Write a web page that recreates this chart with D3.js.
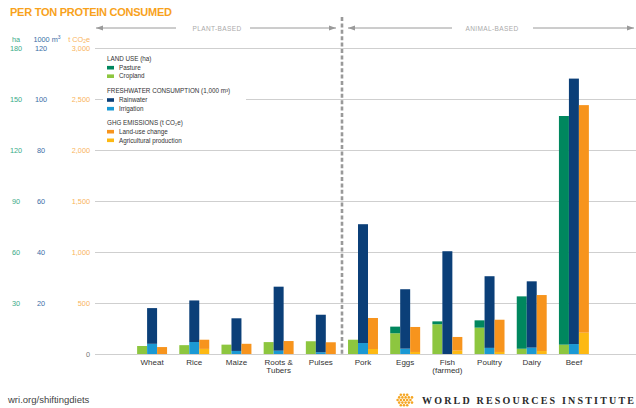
<!DOCTYPE html>
<html>
<head>
<meta charset="utf-8">
<script src="https://cdn.jsdelivr.net/npm/d3@7"></script>
<style>
  body { margin: 0; background: #fff; }
  svg { display: block; font-family: "Liberation Sans", Arial, sans-serif; }
</style>
</head>
<body>
<div id="chart"></div>
<script>
// values per ton of protein consumed
var categories = ["Wheat", "Rice", "Maize", "Roots & Tubers", "Pulses", "Pork", "Eggs", "Fish (farmed)", "Poultry", "Dairy", "Beef"]
var tickLines = [["Wheat"], ["Rice"], ["Maize"], ["Roots &", "Tubers"], ["Pulses"], ["Pork"], ["Eggs"], ["Fish", "(farmed)"], ["Poultry"], ["Dairy"], ["Beef"]]

// land use (ha)
var cropland = [4.7, 5.2, 5.5, 7, 7.5, 8.4, 12.2, 17.5, 15.5, 3.1, 5.5]
var pasture = [0, 0, 0, 0, 0, 0, 3.9, 1.7, 4.3, 30.8, 134.5]
// freshwater (1,000 m3)
var irrigation = [4, 4.7, 1.2, 1.3, 0.7, 4.3, 2.1, 0, 2.4, 2.5, 3.9]
var rainwater = [14, 16.3, 12.8, 25.1, 14.7, 46.6, 23.3, 40.3, 28.1, 26, 104.1]
// ghg (t CO2e)
var agProduction = [0, 50, 0, 0, 0, 49, 20, 33, 20, 29, 209]
var landUseChange = [68, 90, 100, 127, 115, 304, 245, 134, 316, 549, 2231]

var haTicks = [30, 60, 90, 120, 150, 180]
var waterTicks = [20, 40, 60, 80, 100, 120]
var ghgTicks = [0, 500, 1000, 1500, 2000, 2500, 3000]

var colors = {
    pasture: "#00875e", cropland: "#8dc63f",
    rainwater: "#0b3f78", irrigation: "#1b99d4",
    landUse: "#f7941d", agProd: "#fdb913"
}

var W = 636, H = 408
var svg = d3.select("#chart").append("svg").attr("width", W).attr("height", H)

var yGhg = d3.scaleLinear().domain([0, 3000]).range([354, 48])
var yHa = d3.scaleLinear().domain([0, 180]).range([354, 48])
var yWater = d3.scaleLinear().domain([0, 120]).range([354, 48])

var x = d3.scaleBand().domain(categories).range([131, 595]).paddingInner(0.29).paddingOuter(0.145)
var xSub = d3.scaleBand().domain(["land", "water", "ghg"]).range([0, x.bandwidth()])

// title
svg.append("text").attr("x", 10).attr("y", 16)
    .text("PER TON PROTEIN CONSUMED")
    .style("font-size", "11px").style("font-weight", "bold").style("fill", "#f8a21c")
    .attr("textLength", 162).attr("lengthAdjust", "spacing")

// gridlines + ghg axis
var gAxis = svg.append("g").attr("transform", "translate(95,0)")
    .call(d3.axisLeft(yGhg).tickValues(ghgTicks).tickSize(-(W - 95)).tickPadding(5)
        .tickFormat(d3.format(",")))
gAxis.select(".domain").remove()
gAxis.selectAll("line").style("stroke", "#cfcfcf")
gAxis.selectAll("text").style("fill", function (d) { return d === 0 ? "#777" : "#f9b45c" })
    .style("font-size", "7.3px").style("font-family", "Liberation Sans, Arial, sans-serif")

var haAxis = svg.append("g").attr("transform", "translate(16,0)")
    .call(d3.axisLeft(yHa).tickValues(haTicks).tickSize(0).tickPadding(0))
haAxis.select(".domain").remove()
haAxis.selectAll("text").attr("text-anchor", "middle").style("fill", "#3aab88")
    .style("font-size", "7.3px").style("font-family", "Liberation Sans, Arial, sans-serif")

var waterAxis = svg.append("g").attr("transform", "translate(41,0)")
    .call(d3.axisLeft(yWater).tickValues(waterTicks).tickSize(0).tickPadding(0))
waterAxis.select(".domain").remove()
waterAxis.selectAll("text").attr("text-anchor", "middle").style("fill", "#3b6ea6")
    .style("font-size", "7.3px").style("font-family", "Liberation Sans, Arial, sans-serif")

// unit headers
var head = svg.append("g").style("font-size", "7.3px")
head.append("text").attr("x", 16).attr("y", 41.5).attr("text-anchor", "middle").style("fill", "#3aab88").text("ha")
var wh = head.append("text").attr("x", 47).attr("y", 41.5).attr("text-anchor", "middle").style("fill", "#3b6ea6")
wh.append("tspan").text("1000 m")
wh.append("tspan").attr("dy", -2.5).style("font-size", "5px").text("3")
var gh = head.append("text").attr("x", 90).attr("y", 41.5).attr("text-anchor", "end").style("fill", "#f9b45c")
gh.append("tspan").text("t CO")
gh.append("tspan").attr("dy", 1.5).style("font-size", "5px").text("2")
gh.append("tspan").attr("dy", -1.5).text("e")

// bars
var rows = categories.map(function (c, i) {
    return {
        cat: c, cropland: cropland[i], pasture: pasture[i],
        irrigation: irrigation[i], rainwater: rainwater[i],
        agProd: agProduction[i], landUse: landUseChange[i]
    }
})

var groups = [
    { key: "land", y: yHa, keys: ["cropland", "pasture"] },
    { key: "water", y: yWater, keys: ["irrigation", "rainwater"] },
    { key: "ghg", y: yGhg, keys: ["agProd", "landUse"] }
]

var barsG = svg.append("g").attr("class", "bars")
groups.forEach(function (grp) {
    var series = d3.stack().keys(grp.keys)(rows)
    barsG.append("g").selectAll("g")
        .data(series)
        .enter()
        .append("g")
        .style("fill", function (d) { return colors[d.key] })
        .selectAll("rect")
        .data(function (d) { return d })
        .enter()
        .append("rect")
        .attr("x", function (d) { return x(d.data.cat) + xSub(grp.key) })
        .attr("width", xSub.bandwidth())
        .attr("y", function (d) { return grp.y(d[1]) })
        .attr("height", function (d) { return grp.y(d[0]) - grp.y(d[1]) })
})

// category labels
var xAxis = svg.append("g").attr("transform", "translate(0,354)")
    .call(d3.axisBottom(x).tickSize(0).tickPadding(0))
xAxis.select(".domain").remove()
xAxis.selectAll("text").each(function (d, i) {
    var t = d3.select(this).text("").attr("y", 11).attr("dy", 0)
        .style("font-size", "8px").style("fill", "#333")
        .style("font-family", "Liberation Sans, Arial, sans-serif")
    tickLines[i].forEach(function (line, j) {
        t.append("tspan").attr("x", 0).attr("dy", j === 0 ? 0 : 8).text(line)
    })
})

// plant / animal divider
svg.append("line").attr("x1", 342).attr("x2", 342).attr("y1", 17).attr("y2", 356)
    .style("stroke", "#999").style("stroke-width", 2.6).style("stroke-dasharray", "4,2.4")

var arrows = svg.append("g").style("stroke", "#9a9a9a").style("fill", "#9a9a9a")
function arrow(x1, x2, dir) {
    arrows.append("line").attr("x1", x1).attr("x2", x2).attr("y1", 28).attr("y2", 28).style("stroke-width", 1)
    var tip = dir < 0 ? x1 : x2
    arrows.append("path")
        .attr("d", "M" + tip + ",28 L" + (tip - dir * 7) + ",25.5 L" + (tip - dir * 7) + ",30.5 Z")
        .style("stroke", "none")
}
arrow(96, 176, -1)
arrow(250, 336, 1)
arrow(348, 452, -1)
arrow(533, 634, 1)
svg.append("text").attr("x", 217).attr("y", 30.5).attr("text-anchor", "middle")
    .text("PLANT-BASED").style("font-size", "6.5px").style("fill", "#aaa").style("letter-spacing", "0.4px")
svg.append("text").attr("x", 492).attr("y", 30.5).attr("text-anchor", "middle")
    .text("ANIMAL-BASED").style("font-size", "6.5px").style("fill", "#aaa").style("letter-spacing", "0.4px")

// legend
var legend = svg.append("g").attr("class", "legend")
legend.append("rect").attr("x", 103).attr("y", 52).attr("width", 143).attr("height", 94).style("fill", "#fff")
var legendItems = [
    { title: "LAND USE (ha)", y: 59, items: [["Pasture", colors.pasture, 67.7], ["Cropland", colors.cropland, 76.2]] },
    { title: "FRESHWATER CONSUMPTION (1,000 m³)", y: 91, items: [["Rainwater", colors.rainwater, 100], ["Irrigation", colors.irrigation, 108.7]] },
    { title: "GHG EMISSIONS (t CO₂e)", y: 122.3, items: [["Land-use change", colors.landUse, 131.7], ["Agricultural production", colors.agProd, 140.3]] }
]
legendItems.forEach(function (sec) {
    legend.append("text").attr("x", 107).attr("y", sec.y + 2.2).text(sec.title)
        .style("font-size", "6.3px").style("fill", "#333")
    sec.items.forEach(function (it) {
        legend.append("rect").attr("x", 107).attr("y", it[2] - 1.8).attr("width", 7).attr("height", 3.6).style("fill", it[1])
        legend.append("text").attr("x", 119).attr("y", it[2] + 2.2).text(it[0])
            .style("font-size", "6.3px").style("fill", "#333")
    })
})

// footer
svg.append("text").attr("x", 8).attr("y", 403).text("wri.org/shiftingdiets")
    .style("font-size", "9.5px").style("fill", "#444")

var logo = svg.append("g").attr("transform", "translate(404,400)").style("fill", "#f5a623")
d3.range(-2, 3).forEach(function (i) {
    d3.range(-2, 3).forEach(function (j) {
        if (Math.abs(i) + Math.abs(j) <= 3) {
            logo.append("circle").attr("cx", i * 3.2 + (j % 2 ? 1.6 : 0)).attr("cy", j * 2.6).attr("r", 1.3)
        }
    })
})
svg.append("text").attr("x", 422).attr("y", 403.5).text("WORLD RESOURCES INSTITUTE")
    .style("font-family", "Liberation Serif, DejaVu Serif, serif").style("font-size", "10px")
    .style("font-weight", "bold").style("fill", "#2a2a2a")
    .attr("textLength", 212).attr("lengthAdjust", "spacing")
</script>
</body>
</html>
